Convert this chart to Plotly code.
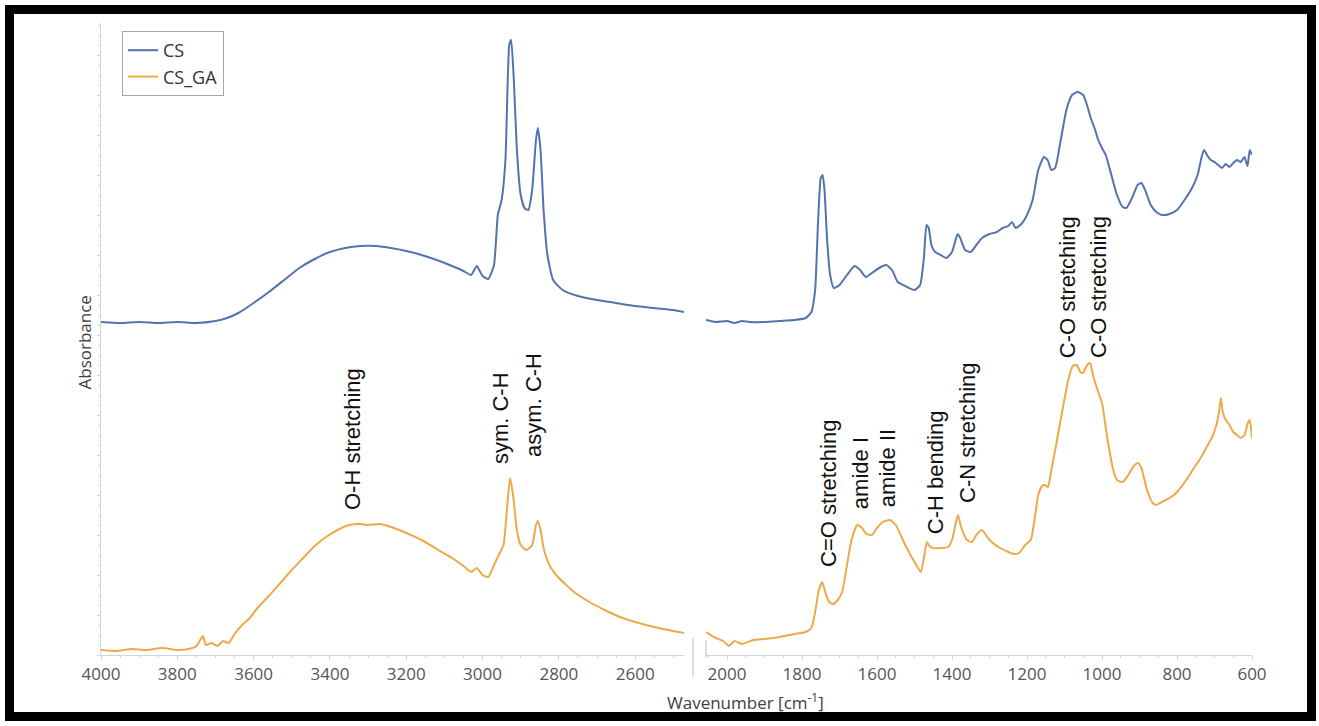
import plotly.graph_objects as go

# ---------------- spectra (absorbance, arbitrary units, stacked) ----------------
# high-wavenumber window 4000-2472 cm-1
wn_hi = [4000, 3950, 3900, 3850, 3800, 3750, 3700, 3670, 3640, 3600, 3560, 3520, 3480,
         3440, 3400, 3360, 3320, 3280, 3240, 3200, 3160, 3120, 3080, 3050, 3030, 3015,
         3000, 2985, 2970, 2960, 2950, 2940, 2930, 2925, 2918, 2910, 2900, 2890, 2880,
         2870, 2860, 2855, 2848, 2840, 2830, 2815, 2790, 2750, 2700, 2650, 2600, 2550,
         2500, 2472]
cs_hi = [0.333, 0.332, 0.333, 0.332, 0.333, 0.332, 0.334, 0.337, 0.342, 0.352, 0.363,
         0.375, 0.387, 0.396, 0.403, 0.407, 0.409, 0.409, 0.407, 0.404, 0.400, 0.395,
         0.389, 0.384, 0.380, 0.389, 0.379, 0.376, 0.390, 0.440, 0.455, 0.495, 0.610,
         0.615, 0.575, 0.505, 0.460, 0.447, 0.445, 0.465, 0.515, 0.527, 0.505, 0.445,
         0.400, 0.375, 0.365, 0.359, 0.355, 0.352, 0.349, 0.347, 0.345, 0.343]

wn_ga_hi = [4000, 3960, 3920, 3880, 3840, 3800, 3770, 3750, 3740, 3733, 3725, 3710, 3695,
            3680, 3665, 3650, 3630, 3610, 3590, 3560, 3530, 3500, 3470, 3440, 3410, 3380,
            3350, 3320, 3300, 3270, 3240, 3200, 3160, 3120, 3080, 3050, 3030, 3015, 3000,
            2985, 2970, 2955, 2945, 2935, 2928, 2920, 2910, 2900, 2885, 2870, 2860, 2855,
            2848, 2840, 2825, 2800, 2760, 2720, 2680, 2640, 2600, 2550, 2500, 2472]
cs_ga_hi = [0.005, 0.004, 0.006, 0.005, 0.007, 0.005, 0.006, 0.009, 0.015, 0.019, 0.010,
            0.012, 0.009, 0.014, 0.012, 0.021, 0.030, 0.037, 0.047, 0.059, 0.072, 0.085,
            0.097, 0.109, 0.118, 0.125, 0.130, 0.131, 0.130, 0.131, 0.128, 0.122, 0.115,
            0.106, 0.097, 0.089, 0.083, 0.087, 0.080, 0.078, 0.090, 0.102, 0.110, 0.150,
            0.177, 0.160, 0.125, 0.110, 0.105, 0.110, 0.130, 0.134, 0.125, 0.107, 0.090,
            0.077, 0.063, 0.053, 0.045, 0.038, 0.033, 0.028, 0.024, 0.022]

# fingerprint window 2056-600 cm-1
wn_lo = [2056, 2030, 2000, 1980, 1960, 1940, 1900, 1860, 1820, 1790, 1775, 1765, 1757,
         1750, 1745, 1740, 1733, 1725, 1715, 1700, 1680, 1660, 1645, 1630, 1610, 1590,
         1575, 1560, 1545, 1530, 1515, 1500, 1485, 1475, 1468, 1462, 1455, 1445, 1430,
         1415, 1400, 1385, 1378, 1365, 1350, 1335, 1320, 1300, 1280, 1265, 1250, 1240,
         1230, 1215, 1200, 1185, 1170, 1155, 1145, 1135, 1125, 1110, 1095, 1080, 1065,
         1050, 1040, 1030, 1020, 1010, 1000, 990, 975, 960, 945, 935, 920, 905, 895,
         885, 870, 855, 840, 820, 800, 780, 760, 745, 735, 728, 720, 710, 700, 690, 680,
         670, 660, 650, 640, 630, 620, 612, 606, 600]
cs_lo = [0.335, 0.333, 0.334, 0.332, 0.334, 0.333, 0.333, 0.334, 0.335, 0.337, 0.343,
         0.365, 0.435, 0.477, 0.480, 0.465, 0.415, 0.380, 0.367, 0.370, 0.380, 0.389,
         0.385, 0.378, 0.383, 0.388, 0.390, 0.385, 0.373, 0.370, 0.367, 0.365, 0.370,
         0.397, 0.430, 0.427, 0.410, 0.403, 0.400, 0.397, 0.403, 0.421, 0.417, 0.405,
         0.403, 0.410, 0.417, 0.421, 0.423, 0.427, 0.429, 0.433, 0.427, 0.431, 0.440,
         0.455, 0.485, 0.498, 0.495, 0.485, 0.487, 0.515, 0.545, 0.560, 0.563, 0.560,
         0.550, 0.537, 0.527, 0.515, 0.507, 0.500, 0.480, 0.460, 0.448, 0.447, 0.457,
         0.470, 0.472, 0.465, 0.450, 0.443, 0.440, 0.441, 0.445, 0.455, 0.467, 0.480,
         0.497, 0.505, 0.500, 0.495, 0.493, 0.490, 0.487, 0.491, 0.488, 0.492, 0.495,
         0.493, 0.498, 0.489, 0.505, 0.500]

wn_ga_lo = [2056, 2030, 2010, 1995, 1980, 1960, 1930, 1900, 1860, 1820, 1790, 1775, 1765,
            1755, 1746, 1738, 1728, 1717, 1705, 1693, 1680, 1668, 1653, 1640, 1628, 1614,
            1600, 1585, 1565, 1550, 1531, 1515, 1500, 1483, 1475, 1467, 1460, 1451, 1430,
            1411, 1400, 1390, 1384, 1375, 1360, 1347, 1335, 1320, 1300, 1272, 1250, 1235,
            1221, 1205, 1190, 1180, 1170, 1160, 1152, 1144, 1135, 1120, 1104, 1090, 1078,
            1067, 1058, 1051, 1040, 1032, 1022, 1010, 1000, 985, 970, 960, 945, 930, 915,
            904, 895, 880, 865, 855, 845, 830, 815, 800, 785, 770, 755, 740, 725, 715, 705,
            695, 688, 683, 678, 670, 660, 650, 640, 630, 620, 612, 606, 600]
cs_ga_lo = [0.023, 0.017, 0.014, 0.009, 0.014, 0.011, 0.015, 0.016, 0.018, 0.021, 0.023,
            0.027, 0.043, 0.065, 0.073, 0.063, 0.053, 0.051, 0.055, 0.063, 0.090, 0.115,
            0.130, 0.127, 0.121, 0.120, 0.127, 0.133, 0.135, 0.130, 0.115, 0.103, 0.093,
            0.083, 0.097, 0.113, 0.109, 0.107, 0.107, 0.108, 0.115, 0.132, 0.140, 0.127,
            0.115, 0.113, 0.120, 0.125, 0.115, 0.107, 0.103, 0.101, 0.102, 0.110, 0.115,
            0.135, 0.160, 0.169, 0.170, 0.168, 0.185, 0.215, 0.248, 0.275, 0.289, 0.290,
            0.283, 0.282, 0.290, 0.292, 0.277, 0.263, 0.252, 0.215, 0.185, 0.175, 0.173,
            0.180, 0.189, 0.192, 0.187, 0.165, 0.152, 0.150, 0.152, 0.155, 0.158, 0.163,
            0.170, 0.178, 0.187, 0.195, 0.205, 0.212, 0.219, 0.230, 0.243, 0.257, 0.243,
            0.235, 0.230, 0.223, 0.220, 0.217, 0.220, 0.231, 0.235, 0.217]

# band assignments: (label, wavenumber, height, window)
band_labels = ["O-H stretching", "sym. C-H", "asym. C-H", "C=O stretching", "amide I",
               "amide II", "C-H bending", "C-N stretching", "C-O stretching",
               "C-O stretching"]
band_wn = [3342, 2954, 2868, 1731, 1645, 1573, 1445, 1360, 1093, 1011]
band_y = [0.216, 0.237, 0.250, 0.162, 0.182, 0.187, 0.183, 0.222, 0.368, 0.368]
band_window = ["hi", "hi", "hi", "lo", "lo", "lo", "lo", "lo", "lo", "lo"]

series_names = ["CS", "CS_GA"]
series_colors = ["#5473ad", "#eea948"]

hi_ticks = [4000, 3800, 3600, 3400, 3200, 3000, 2800, 2600]
lo_ticks = [2000, 1800, 1600, 1400, 1200, 1000, 800, 600]

# ---------------- figure geometry (pixels) ----------------
W, H = 1319, 726
PL, PR, PT, PB = 101, 1252, 23, 655
pw, ph = PR - PL, PB - PT


def px(x):
    return (x - PL) / pw


def py(y):
    return (PB - y) / ph


fig = go.Figure()

line_kw = dict(shape="spline", smoothing=0.5, width=2)
fig.add_trace(go.Scatter(x=wn_hi, y=cs_hi, name=series_names[0], legendgroup="cs",
                         line=dict(color=series_colors[0], **line_kw),
                         xaxis="x", yaxis="y", mode="lines"))
fig.add_trace(go.Scatter(x=wn_ga_hi, y=cs_ga_hi, name=series_names[1], legendgroup="ga",
                         line=dict(color=series_colors[1], **line_kw),
                         xaxis="x", yaxis="y", mode="lines"))
fig.add_trace(go.Scatter(x=wn_lo, y=cs_lo, name=series_names[0], legendgroup="cs",
                         showlegend=False, line=dict(color=series_colors[0], **line_kw),
                         xaxis="x2", yaxis="y", mode="lines"))
fig.add_trace(go.Scatter(x=wn_ga_lo, y=cs_ga_lo, name=series_names[1], legendgroup="ga",
                         showlegend=False, line=dict(color=series_colors[1], **line_kw),
                         xaxis="x2", yaxis="y", mode="lines"))

tick_font = dict(family="Open Sans", size=17, color="#555555")
axis_col = "#d4d4d4"

common_x = dict(showline=True, linecolor=axis_col, linewidth=1, ticks="outside",
                ticklen=4, tickcolor=axis_col, tickfont=tick_font, showgrid=False,
                zeroline=False, minor=dict(ticks="outside", ticklen=2, dtick=50,
                                           tickcolor=axis_col))

fig.update_layout(
    width=W, height=H, autosize=False,
    margin=dict(l=PL, r=W - PR, t=PT, b=H - PB),
    paper_bgcolor="white", plot_bgcolor="white",
    xaxis=dict(domain=[0, px(684)], range=[4000, 2472], tickvals=hi_ticks,
               anchor="y", **common_x),
    xaxis2=dict(domain=[px(706), 1], range=[2056, 600], tickvals=lo_ticks,
                anchor="y", **common_x),
    yaxis=dict(range=[0, 0.632], showticklabels=False, showline=True, linecolor=axis_col,
               ticks="outside", ticklen=3, tickcolor=axis_col, dtick=0.04,
               showgrid=False, zeroline=False,
               minor=dict(ticks="outside", ticklen=2, dtick=0.01, tickcolor=axis_col)),
    showlegend=True,
    legend=dict(x=px(122), y=py(31), xanchor="left", yanchor="top",
                bgcolor="white", bordercolor="#a6a6a6", borderwidth=1,
                font=dict(family="Open Sans", size=18, color="#333333"),
                tracegroupgap=0, itemwidth=30),
)

# band labels
for lab, w, yv, win in zip(band_labels, band_wn, band_y, band_window):
    fig.add_annotation(text=lab, x=w, y=yv, xref="x" if win == "hi" else "x2", yref="y",
                       showarrow=False, textangle=-90,
                       font=dict(family="Liberation Sans", size=22, color="#111111"))

# axis titles
fig.add_annotation(text="Wavenumber [cm<sup>-1</sup>]", x=px(745), y=py(687),
                   xref="paper", yref="paper", yanchor="top", showarrow=False,
                   font=dict(family="Open Sans", size=17, color="#404040"))
fig.add_annotation(text="Absorbance", x=px(70), y=py(343), xref="paper", yref="paper",
                   showarrow=False, textangle=-90,
                   font=dict(family="Open Sans", size=17, color="#404040"))

# axis break marks
fig.add_shape(type="line", xref="paper", yref="paper", x0=px(693), x1=px(693),
              y0=py(638), y1=py(677), line=dict(color="#bfbfbf", width=1))
fig.add_shape(type="line", xref="paper", yref="paper", x0=px(706), x1=px(706),
              y0=py(640), y1=py(658), line=dict(color="#bfbfbf", width=1))

# black picture frame
fig.add_shape(type="rect", xref="paper", yref="paper", x0=px(9.5), x1=px(1311.5),
              y0=py(716.5), y1=py(9.5), line=dict(color="black", width=9),
              fillcolor="rgba(0,0,0,0)", layer="above")

fig.write_html("out.html")
